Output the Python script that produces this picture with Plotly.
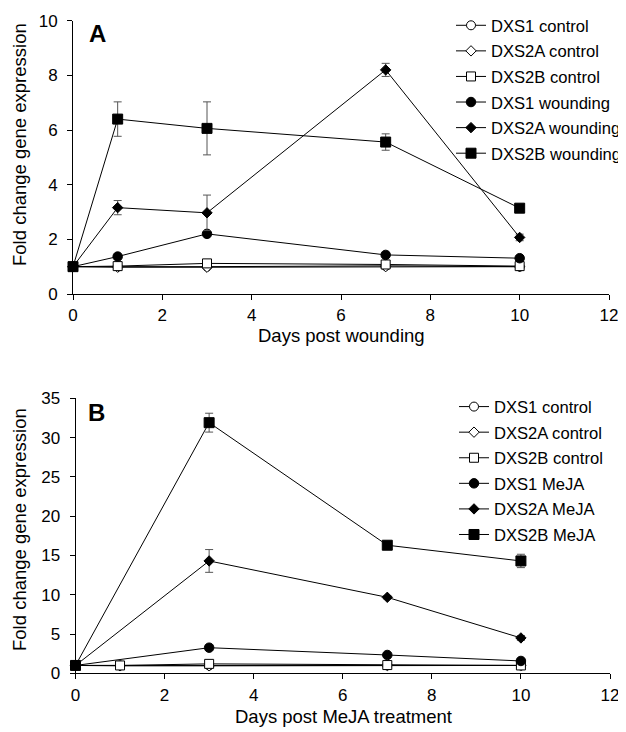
import plotly.graph_objects as go

# ---------------- data ----------------
days = [0, 1, 3, 7, 10]
days_meja = [0, 3, 7, 10]

# Panel A (wounding)
dxs1_ctrl_A = [1.0, 1.0, 1.0, 1.03, 1.0]
dxs2a_ctrl_A = [1.0, 0.98, 0.98, 1.0, 1.0]
dxs2b_ctrl_A = [1.0, 1.02, 1.12, 1.08, 1.02]
dxs1_ctrl_A_err = [0.0, 0.04, 0.05, 0.05, 0.04]
dxs2a_ctrl_A_err = [0.0, 0.04, 0.08, 0.08, 0.04]
dxs2b_ctrl_A_err = [0.0, 0.04, 0.1, 0.06, 0.04]

dxs1_wound = [1.0, 1.37, 2.2, 1.43, 1.31]
dxs2a_wound = [1.0, 3.16, 2.97, 8.2, 2.07]
dxs2b_wound = [1.0, 6.4, 6.06, 5.56, 3.14]
dxs1_wound_err = [0.0, 0.05, 0.06, 0.05, 0.05]
dxs2a_wound_err = [0.0, 0.26, 0.65, 0.24, 0.12]
dxs2b_wound_err = [0.0, 0.63, 0.97, 0.3, 0.08]

# Panel B (MeJA)
dxs1_ctrl_B = [1.0, 1.0, 1.0, 1.0, 1.0]
dxs2a_ctrl_B = [1.0, 0.95, 0.95, 1.0, 1.0]
dxs2b_ctrl_B = [1.0, 1.0, 1.2, 1.05, 1.0]
dxs1_ctrl_B_err = [0.0, 0.1, 0.1, 0.1, 0.1]
dxs2a_ctrl_B_err = [0.0, 0.1, 0.15, 0.1, 0.1]
dxs2b_ctrl_B_err = [0.0, 0.1, 0.2, 0.1, 0.1]

dxs1_meja = [1.0, 3.26, 2.33, 1.57]
dxs2a_meja = [1.0, 14.3, 9.67, 4.5]
dxs2b_meja = [1.0, 31.9, 16.3, 14.3]
dxs1_meja_err = [0.0, 0.2, 0.15, 0.15]
dxs2a_meja_err = [0.0, 1.45, 0.2, 0.3]
dxs2b_meja_err = [0.0, 1.2, 0.3, 0.85]

x_ticks = [0, 2, 4, 6, 8, 10, 12]
y_ticks_A = [0, 2, 4, 6, 8, 10]
y_ticks_B = [0, 5, 10, 15, 20, 25, 30, 35]

FONT = "Arial, Liberation Sans, Helvetica, sans-serif"
OFF = 8  # default page body margin
W, H = 626 - OFF, 732 - OFF

fig = go.Figure()

def add(x, y, err, name, symbol, filled, size, xa, ya, legend):
    fig.add_trace(go.Scatter(
        x=x, y=y, name=name, mode="lines+markers",
        xaxis=xa, yaxis=ya, legend=legend, legendgroup=legend + name,
        cliponaxis=False,
        line=dict(color="black", width=1),
        marker=dict(symbol=symbol, size=size,
                    color="black" if filled else "white",
                    line=dict(color="black", width=1)),
        error_y=dict(type="data", array=err, visible=True,
                     color="#555555", thickness=1, width=4),
    ))

# Panel A
add(days, dxs1_ctrl_A, dxs1_ctrl_A_err, "DXS1 control", "circle", False, 9, "x", "y", "legend")
add(days, dxs2a_ctrl_A, dxs2a_ctrl_A_err, "DXS2A control", "diamond", False, 8, "x", "y", "legend")
add(days, dxs2b_ctrl_A, dxs2b_ctrl_A_err, "DXS2B control", "square", False, 9, "x", "y", "legend")
add(days, dxs1_wound, dxs1_wound_err, "DXS1 wounding", "circle", True, 9.5, "x", "y", "legend")
add(days, dxs2a_wound, dxs2a_wound_err, "DXS2A wounding", "diamond", True, 8, "x", "y", "legend")
add(days, dxs2b_wound, dxs2b_wound_err, "DXS2B wounding", "square", True, 10, "x", "y", "legend")

# Panel B
add(days, dxs1_ctrl_B, dxs1_ctrl_B_err, "DXS1 control", "circle", False, 9, "x2", "y2", "legend2")
add(days, dxs2a_ctrl_B, dxs2a_ctrl_B_err, "DXS2A control", "diamond", False, 8, "x2", "y2", "legend2")
add(days, dxs2b_ctrl_B, dxs2b_ctrl_B_err, "DXS2B control", "square", False, 9, "x2", "y2", "legend2")
add(days_meja, dxs1_meja, dxs1_meja_err, "DXS1 MeJA", "circle", True, 9.5, "x2", "y2", "legend2")
add(days_meja, dxs2a_meja, dxs2a_meja_err, "DXS2A MeJA", "diamond", True, 8, "x2", "y2", "legend2")
add(days_meja, dxs2b_meja, dxs2b_meja_err, "DXS2B MeJA", "square", True, 10, "x2", "y2", "legend2")

axis_common = dict(showline=True, linecolor="black", linewidth=1, showgrid=False,
                   zeroline=False, ticks="outside", ticklen=5, tickcolor="black",
                   tickwidth=1, automargin=False, ticklabeloverflow="allow",
                   tickfont=dict(family=FONT, size=17, color="black"))

def px_x(p):
    return (p - OFF) / W

def px_y(p):
    return 1 - (p - OFF) / H

legend_common = dict(font=dict(family=FONT, size=16.6, color="black"),
                     bgcolor="rgba(0,0,0,0)", borderwidth=0, tracegroupgap=1,
                     xanchor="left", yanchor="top", itemclick=False)

fig.update_layout(
    width=W, height=H,
    margin=dict(l=0, r=0, t=0, b=0, pad=0, autoexpand=False),
    paper_bgcolor="white", plot_bgcolor="white",
    font=dict(family=FONT, color="black"),
    xaxis=dict(axis_common, range=[0, 12], tickvals=x_ticks,
               domain=[px_x(73), px_x(609)], anchor="y", ticklabelstandoff=1),
    yaxis=dict(axis_common, range=[0, 10], tickvals=y_ticks_A,
               domain=[px_y(294), px_y(20.7)], anchor="x", ticklabelstandoff=6),
    xaxis2=dict(axis_common, range=[0, 12], tickvals=x_ticks,
                domain=[px_x(75.5), px_x(610)], anchor="y2", ticklabelstandoff=1),
    yaxis2=dict(axis_common, range=[0, 35], tickvals=y_ticks_B,
                domain=[px_y(673.3), px_y(398.3)], anchor="x2", ticklabelstandoff=6),
    legend=dict(legend_common, x=px_x(451), y=px_y(8)),
    legend2=dict(legend_common, x=px_x(454), y=px_y(389.3)),
    showlegend=True,
)

ann = [
    dict(text="<b>A</b>", x=px_x(97), y=px_y(33.5)),
    dict(text="<b>B</b>", x=px_x(96.5), y=px_y(412)),
]
annotations = []
for a in ann:
    annotations.append(dict(a, xref="paper", yref="paper", showarrow=False,
                            xanchor="center", yanchor="middle",
                            font=dict(family=FONT, size=24, color="black")))
titles = [
    ("Days post wounding", px_x(341), px_y(336), 0),
    ("Days post MeJA treatment", px_x(343), px_y(716), 0),
    ("Fold change gene expression", px_x(19), px_y(145), -90),
    ("Fold change gene expression", px_x(19), px_y(530), -90),
]
for t, x, y, ang in titles:
    annotations.append(dict(text=t, x=x, y=y, xref="paper", yref="paper",
                            showarrow=False, xanchor="center", yanchor="middle",
                            textangle=ang,
                            font=dict(family=FONT, size=18.5, color="black")))
fig.update_layout(annotations=annotations)

fig.write_html("out.html")
